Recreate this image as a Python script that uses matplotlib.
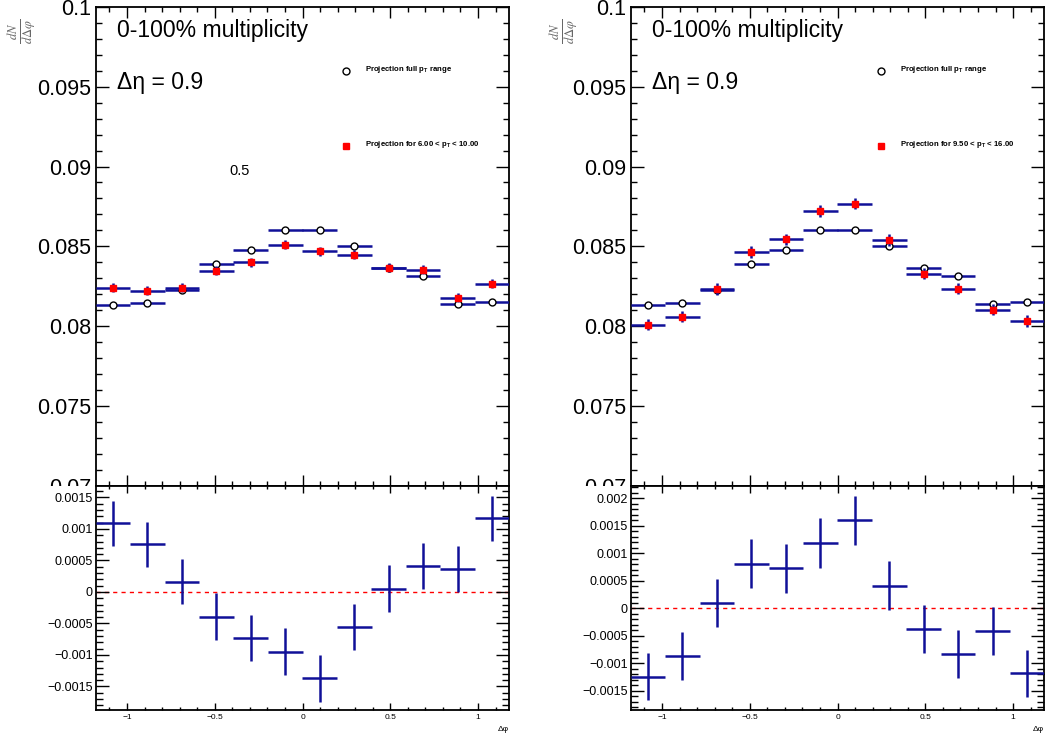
import numpy as np
import matplotlib
matplotlib.use("Agg")
import matplotlib.pyplot as plt
from matplotlib.patches import Rectangle
from matplotlib.ticker import MultipleLocator, FuncFormatter

plt.rcParams['font.family'] = ['Liberation Sans', 'DejaVu Sans']
plt.rcParams['mathtext.fontset'] = 'custom'
plt.rcParams['mathtext.rm'] = 'Liberation Sans:bold'
plt.rcParams['mathtext.it'] = 'Liberation Sans:bold'
plt.rcParams['mathtext.bf'] = 'Liberation Sans:bold'

# Delta phi bins (12 bins over +-3pi/8)
dphi = [-1.080, -0.884, -0.687, -0.491, -0.295, -0.098,
        0.098, 0.295, 0.491, 0.687, 0.884, 1.080]
half_width = 0.0982
phi_max = 1.178

# full pT range projection (same in both panels)
full_proj = [0.08132, 0.08146, 0.08226, 0.08387, 0.08476, 0.08604,
             0.08604, 0.08503, 0.08366, 0.08313, 0.08140, 0.08148]

# left: 6.00 < pT < 10.00
sel_left = [0.08240, 0.08221, 0.08240, 0.08347, 0.08401, 0.08510,
            0.08470, 0.08447, 0.08366, 0.08353, 0.08177, 0.08265]
sel_left_err = [0.00028] * 12
diff_left = [0.00109, 0.000755, 0.000165, -0.000394, -0.000729, -0.000946,
             -0.00137, -0.000558, 0.000053, 0.00041, 0.000367, 0.00117]
diff_left_err = [0.00036, 0.00036, 0.00036, 0.00037, 0.00037, 0.00037,
                 0.00037, 0.00037, 0.00037, 0.00037, 0.00036, 0.00036]

# right: 9.50 < pT < 16.00
sel_right = [0.08008, 0.08058, 0.08232, 0.08464, 0.08545, 0.08721,
             0.08767, 0.08539, 0.08328, 0.08234, 0.08102, 0.08031]
sel_right_err = [0.00035] * 12
diff_right = [-0.001245, -0.000865, 0.0000907, 0.00081, 0.000726, 0.001185,
              0.0016, 0.000411, -0.000375, -0.000828, -0.000417, -0.001185]
diff_right_err = [0.000423, 0.000435, 0.000438, 0.000441, 0.000444, 0.000447,
                  0.000447, 0.000441, 0.000441, 0.000435, 0.000435, 0.000429]

BLUE = '#101098'


def fmt(v, pos):
    return ('%g' % round(v, 7)).replace('-', '\u2212')


fig = plt.figure(figsize=(10.46, 7.40), dpi=100)
fig.patch.set_facecolor('white')

# white pad covering the lower part of the upper frames (like a ROOT pad)
fig.add_artist(Rectangle((0, 0), 1, 0.3439, transform=fig.transFigure,
                         facecolor='white', edgecolor='none', zorder=0.5))


def panel(x0, sel, sel_err, diff, diff_err, dlim, sel_label, extra=None, ylab_x=0.0):
    ax = fig.add_axes([x0, 0.3439, 0.3954, 0.6466], zorder=0)
    axr = fig.add_axes([x0, 0.0405, 0.3954, 0.3034], zorder=1)

    for a in (ax, axr):
        a.set_xlim(-phi_max, phi_max)
        a.xaxis.set_major_locator(MultipleLocator(0.5))
        a.xaxis.set_minor_locator(MultipleLocator(0.1))
        a.tick_params(which='both', direction='in', top=True, right=True,
                      width=1.0, color='black')
        for s in a.spines.values():
            s.set_linewidth(1.3)

    # upper panel
    ax.set_ylim(0.07, 0.1)
    ax.yaxis.set_major_locator(MultipleLocator(0.005))
    ax.yaxis.set_minor_locator(MultipleLocator(0.001))
    ax.yaxis.set_major_formatter(FuncFormatter(fmt))
    ax.tick_params(axis='y', which='major', length=9.4, labelsize=15.5, pad=3)
    ax.tick_params(axis='y', which='minor', length=4.5)
    ax.tick_params(axis='x', which='major', length=8, labelbottom=False)
    ax.tick_params(axis='x', which='minor', length=3.8)

    ax.errorbar(dphi, full_proj, xerr=half_width, fmt='o', ms=5,
                mfc='white', mec='black', mew=1.0, ecolor=BLUE,
                elinewidth=1.8, capsize=0, zorder=3)
    ax.errorbar(dphi, sel, xerr=half_width, yerr=sel_err, fmt='s', ms=5,
                mfc='red', mec='red', ecolor=BLUE, elinewidth=1.8,
                capsize=0, zorder=4)

    ax.text(0.051, 0.9367, '0-100% multiplicity', transform=ax.transAxes,
            fontsize=16.6, va='baseline', ha='left')
    ax.text(0.051, 0.828, '\u0394\u03b7 = 0.9', transform=ax.transAxes,
            fontsize=16.6, va='baseline', ha='left')
    if extra:
        ax.text(0.322, 0.649, extra, transform=ax.transAxes,
                fontsize=10.5, va='baseline', ha='left')

    # legend
    ax.plot([0.605], [0.866], 'o', ms=5, mfc='white', mec='black', mew=1.0,
            transform=ax.transAxes, clip_on=False)
    ax.plot([0.605], [0.7095], 's', ms=5, mfc='red', mec='red',
            transform=ax.transAxes, clip_on=False)
    ax.text(0.652, 0.870, r'Projection full $\mathrm{p_{T}}$ range',
            transform=ax.transAxes, fontsize=5.6, fontweight='bold',
            va='center', ha='left')
    ax.text(0.652, 0.712, sel_label, transform=ax.transAxes, fontsize=5.6,
            fontweight='bold', va='center', ha='left')

    fig.text(ylab_x, 1 - 31 / 740, r'$\frac{dN}{d\Delta\varphi}$',
             rotation=90, ha='center', va='center', fontsize=13,
             color='#666666', math_fontfamily='stix')

    # lower panel
    axr.set_ylim(*dlim)
    axr.yaxis.set_major_locator(MultipleLocator(0.0005))
    axr.yaxis.set_minor_locator(MultipleLocator(0.0001))
    axr.yaxis.set_major_formatter(FuncFormatter(fmt))
    axr.xaxis.set_major_formatter(FuncFormatter(fmt))
    axr.tick_params(axis='y', which='major', length=9.4, labelsize=9, pad=2)
    axr.tick_params(axis='y', which='minor', length=5)
    axr.tick_params(axis='x', which='major', length=5, labelsize=6, pad=3)
    axr.tick_params(axis='x', which='minor', length=2.5)

    axr.axhline(0, color='red', lw=1.0, ls=(0, (3, 3)), zorder=1)
    axr.errorbar(dphi, diff, xerr=half_width, yerr=diff_err, fmt='none',
                 ecolor=BLUE, elinewidth=1.8, capsize=0, zorder=3)
    axr.text(1.0, -0.07, '\u0394\u03c6', transform=axr.transAxes,
             fontsize=6, ha='right', va='top')
    return ax, axr


panel(0.0915, sel_left, sel_left_err, diff_left, diff_left_err,
      (-0.001875, 0.00169),
      r'Projection for 6.00 < $\mathrm{p_{T}}$ < 10.00', extra='0.5',
      ylab_x=22 / 1046)
panel(0.603, sel_right, sel_right_err, diff_right, diff_right_err,
      (-0.00185, 0.00223),
      r'Projection for 9.50 < $\mathrm{p_{T}}$ < 16.00',
      ylab_x=564 / 1046)

fig.savefig('out.png', dpi=100)
